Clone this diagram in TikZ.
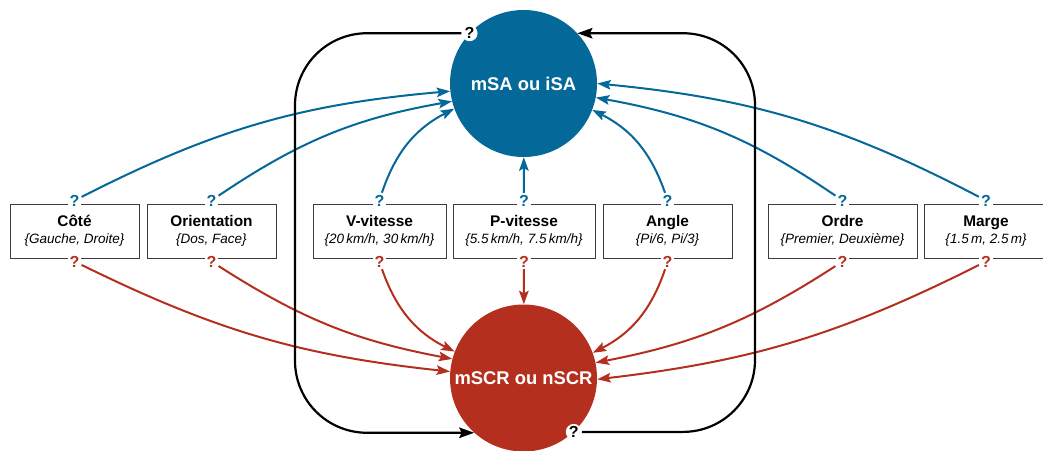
\documentclass[tikz,border=0pt]{standalone}
\usepackage{fontspec}
\setmainfont{Liberation Sans}
\usetikzlibrary{arrows.meta}

\definecolor{saBlue}{RGB}{4,104,152}
\definecolor{scrRed}{RGB}{180,47,30}
\definecolor{boxGray}{RGB}{60,60,60}

\newcommand{\paramvals}[1]{{\fontsize{13.5}{16}\selectfont\mdseries\itshape\{#1\}}}

\begin{document}
\begin{tikzpicture}[x=10pt,y=10pt,
    goal/.style={circle,minimum size=147pt,inner sep=0pt,text=white,
      font=\fontsize{18.4}{20}\selectfont\bfseries},
    param/.style={draw=boxGray,line width=0.9pt,minimum height=54pt,inner sep=0pt,
      align=center,font=\fontsize{15.4}{17}\selectfont\bfseries},
    qmark/.style={fill=white,inner sep=2pt,font=\fontsize{16}{16}\selectfont\bfseries},
    qup/.style={qmark,text=saBlue,yshift=3pt},
    qdn/.style={qmark,text=scrRed,yshift=-3pt},
    toSA/.style={saBlue,line width=2pt,-{Stealth[length=13.5pt,width=9.5pt,inset=2.5pt]}},
    toSCR/.style={scrRed,line width=2pt,-{Stealth[length=13.5pt,width=9.5pt,inset=2.5pt]}},
    loopline/.style={line width=2.2pt,rounded corners=72pt,-{Stealth[length=15pt,width=10.5pt,inset=2.5pt]}}]
  \useasboundingbox (0,0) rectangle (104.3,45);

  \node[goal,fill=saBlue] (sa) at (52.35,36.65) {mSA ou iSA};
  \node[goal,fill=scrRed] (scr) at (52.35,7.2) {mSCR ou nSCR};

  \node[param,minimum width=129pt] (cote) at (7.45,21.9) {Côté\\\paramvals{Gauche, Droite}};
  \node[param,minimum width=129pt] (orient) at (21.15,21.9) {Orientation\\\paramvals{Dos, Face}};
  \node[param,minimum width=133pt] (vvit) at (37.95,21.9) {V-vitesse\\\paramvals{20\,km/h, 30\,km/h}};
  \node[param,minimum width=142pt] (pvit) at (52.4,21.9) {P-vitesse\\\paramvals{5.5\,km/h, 7.5\,km/h}};
  \node[param,minimum width=129pt] (angle) at (66.75,21.9) {Angle\\\paramvals{Pi/6, Pi/3}};
  \node[param,minimum width=149pt] (ordre) at (84.25,21.9) {Ordre\\\paramvals{Premier, Deuxième}};
  \node[param,minimum width=124pt] (marge) at (98.6,21.9) {Marge\\\paramvals{1.5\,m, 2.5\,m}};

  % question marks on the boxes
  \node[qup] (cote-up) at (cote.north) {?};
  \node[qdn] (cote-dn) at (cote.south) {?};
  \node[qup] (orient-up) at (orient.north) {?};
  \node[qdn] (orient-dn) at (orient.south) {?};
  \node[qup] (vvit-up) at (vvit.north) {?};
  \node[qdn] (vvit-dn) at (vvit.south) {?};
  \node[qup] (pvit-up) at (pvit.north) {?};
  \node[qdn] (pvit-dn) at (pvit.south) {?};
  \node[qup] (angle-up) at (angle.north) {?};
  \node[qdn] (angle-dn) at (angle.south) {?};
  \node[qup] (ordre-up) at (ordre.north) {?};
  \node[qdn] (ordre-dn) at (ordre.south) {?};
  \node[qup] (marge-up) at (marge.north) {?};
  \node[qdn] (marge-dn) at (marge.south) {?};

  % to mSA
  \draw[toSA] (cote-up) to[bend left=11] (sa.186);
  \draw[toSA] (orient-up) to[bend left=12] (sa.194);
  \draw[toSA] (vvit-up) to[bend left=22] (sa.200);
  \draw[toSA] (pvit-up) -- (sa);
  \draw[toSA] (angle-up) to[bend right=22] (sa.339);
  \draw[toSA] (ordre-up) to[bend right=12] (sa.349);
  \draw[toSA] (marge-up) to[bend right=11] (sa.0);

  % to mSCR
  \draw[toSCR] (cote-dn) to[bend right=10] (scr.175);
  \draw[toSCR] (orient-dn) to[bend right=11] (scr.165);
  \draw[toSCR] (vvit-dn) to[bend right=22] (scr.159);
  \draw[toSCR] (pvit-dn) -- (scr);
  \draw[toSCR] (angle-dn) to[bend left=22] (scr.20);
  \draw[toSCR] (ordre-dn) to[bend left=11] (scr.12);
  \draw[toSCR] (marge-dn) to[bend left=10] (scr.-1);

  % loop between the two goals
  \node[qmark,circle,inner sep=0.4pt] (sa-q) at (sa.137) {?};
  \node[qmark,circle,inner sep=0.4pt] (scr-q) at (scr.-47) {?};
  \draw[loopline] (sa-q) -| (29.5,22) |- (scr.228);
  \draw[loopline] (scr-q) -| (75.5,22) |- (sa.43);
\end{tikzpicture}
\end{document}
